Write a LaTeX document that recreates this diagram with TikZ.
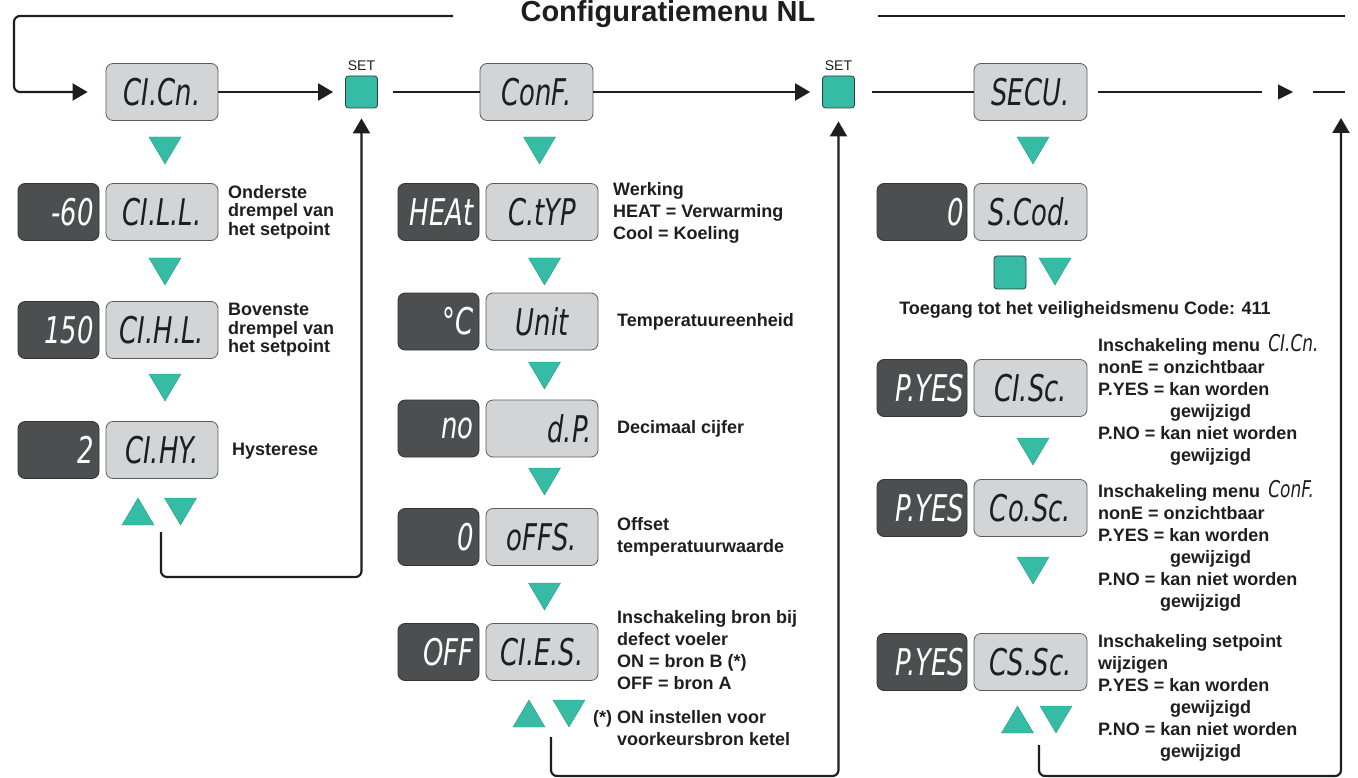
\documentclass[tikz,border=0pt]{standalone}
\usepackage{fontspec}
\usepackage{graphicx}
\setmainfont{Liberation Sans}
\newfontfamily\lcdfont{DejaVu Sans Condensed}
\usetikzlibrary{arrows.meta}
\definecolor{teal1}{HTML}{36BCA4}
\definecolor{teal2}{HTML}{2A9A86}
\definecolor{lcdl}{HTML}{D3D4D6}
\definecolor{lcdd}{HTML}{4D4E50}
\definecolor{bord}{HTML}{5A5B5D}
\definecolor{darkb}{HTML}{333335}
\definecolor{btnb}{HTML}{2E3B38}
\definecolor{ink}{HTML}{1E1E1E}
\newcommand{\lcdtxt}[1]{{\lcdfont\itshape\fontsize{32}{32}\selectfont\scalebox{0.9}[1.15]{#1}}}
\newcommand{\lcdsmall}[1]{{\lcdfont\itshape\mdseries\fontsize{21}{21}\selectfont\scalebox{0.9}[1.1]{#1}}}
\begin{document}
\begin{tikzpicture}[x=1pt,y=-1pt,
  lite/.style={draw=bord,fill=lcdl,rounded corners=7pt,line width=0.8pt,minimum width=112pt,minimum height=57pt,inner sep=0pt,text=ink},
  dark/.style={draw=darkb,fill=lcdd,rounded corners=7pt,line width=0.8pt,minimum width=81pt,minimum height=57pt,inner sep=0pt,text=white,text width=70pt,align=right},
  darkw/.style={dark,minimum width=90pt,text width=84pt},
  btn/.style={draw=btnb,fill=teal1,rounded corners=3pt,line width=0.8pt,minimum width=32pt,minimum height=32pt,inner sep=0pt},
  conn/.style={line width=2.2pt,draw=ink,rounded corners=6pt},
  arr/.style={conn,-{Triangle[length=15pt,width=17pt]}},
  tri/.style={fill=teal1,draw=teal2,line width=0.4pt},
  lbl/.style={font=\fontsize{18}{22}\selectfont\bfseries,align=left,anchor=west,inner sep=0pt,text=ink},
  lblL/.style={lbl,font=\fontsize{18}{18.5}\selectfont\bfseries},
  setl/.style={font=\fontsize{14}{14}\selectfont,inner sep=0pt,text=ink},
  title/.style={font=\fontsize{29}{29}\selectfont\bfseries,inner sep=0pt,text=ink},
  dn/.pic={\filldraw[tri] (-16,0)--(16,0)--(0,27)--cycle;},
  up/.pic={\filldraw[tri] (-16,27)--(16,27)--(0,0)--cycle;}
]
\useasboundingbox (0,0) rectangle (1358,778);

% ---------- title and top loop ----------
\node[title] (ttl) at (668,14) {Configuratiemenu NL};
\coordinate (tL) at (453,16);
\coordinate (tR) at (878,16);
\coordinate (tE) at (1345,16);
\draw[conn] (tR) -- (tE);

% ---------- top row ----------
\node[lite] (cicn) at (162,92) {\lcdtxt{CI.Cn.}};
\node[btn] (set1) at (361.5,92) {};
\node[setl] at (361.5,66) {SET};
\node[lite,minimum width=113pt] (conf) at (536.5,92) {\lcdtxt{ConF.}};
\node[btn] (set2) at (838.5,92) {};
\node[setl] at (838.5,66) {SET};
\node[lite,minimum width=113pt] (secu) at (1030.5,92) {\lcdtxt{SECU.}};
\coordinate (gapA) at (1262,92);
\coordinate (gapB) at (1313,92);
\coordinate (gapE) at (1345,92);

\draw[arr,shorten >=18pt] (tL) -- (14,16) -- (14,92) -- (cicn.west);
\draw[arr,shorten >=12pt] (cicn.east) -- (set1.west);
\draw[conn] ([xshift=15pt]set1.east) -- (conf.west);
\draw[arr,shorten >=12pt] (conf.east) -- (set2.west);
\draw[conn] ([xshift=17pt]set2.east) -- (secu.west);
\draw[conn] ([xshift=11pt]secu.east) -- (gapA);
\fill[ink] (1278,84.5) -- (1293,92) -- (1278,99.5) -- cycle;
\draw[conn] (gapB) -- (gapE);

% ---------- left column ----------
\pic at (165,137) {dn};
\node[dark] (d11) at (58.5,212) {\lcdtxt{-60}};
\node[lite] (l11) at (162,212) {\lcdtxt{CI.L.L.}};
\node[lblL] at (228,212) {Onderste\\drempel van\\het setpoint};
\pic at (165,258) {dn};
\node[dark] (d12) at (58.5,330) {\lcdtxt{150}};
\node[lite] (l12) at (162,330) {\lcdtxt{CI.H.L.}};
\node[lblL] at (228,330) {Bovenste\\drempel van\\het setpoint};
\pic at (165,374) {dn};
\node[dark] (d13) at (58.5,450) {\lcdtxt{2}};
\node[lite] (l13) at (162,450) {\lcdtxt{CI.HY.}};
\node[lbl] at (232,451) {Hysterese};
\pic at (138,498) {up};
\pic at (180.5,498) {dn};
\coordinate (rL) at (161,532);
\draw[arr,shorten >=10pt] (rL) -- (161,577) -- (361.5,577) -- (set1.south);

% ---------- middle column ----------
\pic at (539.5,137) {dn};
\node[dark] (d21) at (438.5,212) {\lcdtxt{HEAt}};
\node[lite] (l21) at (542,212) {\lcdtxt{C.tYP}};
\node[lbl] at (613,213) {Werking\\HEAT = Verwarming\\Cool = Koeling};
\pic at (544.5,258) {dn};
\node[dark] (d22) at (438.5,321.5) {\lcdtxt{°C}};
\node[lite] (l22) at (542,321.5) {\lcdtxt{Unit}};
\node[lbl] at (617,322) {Temperatuureenheid};
\pic at (544.5,362) {dn};
\node[dark] (d23) at (438.5,428.5) {\lcdtxt{no}};
\node[lite,text width=100pt,align=right] (l23) at (542,428.5) {\lcdtxt{d.P.}};
\node[lbl] at (617,429) {Decimaal cijfer};
\pic at (544.5,468) {dn};
\node[dark] (d24) at (438.5,537) {\lcdtxt{0}};
\node[lite] (l24) at (542,537) {\lcdtxt{oFFS.}};
\node[lbl] at (617,537) {Offset\\temperatuurwaarde};
\pic at (544.5,583) {dn};
\node[dark] (d25) at (438.5,652) {\lcdtxt{OFF}};
\node[lite] (l25) at (542,652) {\lcdtxt{CI.E.S.}};
\node[lbl] at (617,650) {Inschakeling bron bij\\defect voeler\\ON = bron B (*)\\OFF = bron A};
\pic at (529,700) {up};
\pic at (569,700) {dn};
\node[lbl] at (593,728) {(*) ON instellen voor\\\hphantom{(*) }voorkeursbron ketel};
\coordinate (rM) at (551,737);
\draw[arr,shorten >=13pt] (rM) -- (551,776) -- (838.5,776) -- (set2.south);

% ---------- right column ----------
\pic at (1033,137) {dn};
\node[darkw] (d31) at (922,212) {\lcdtxt{0}};
\node[lite,minimum width=113pt] (l31) at (1030.5,212) {\lcdtxt{S.Cod.}};
\node[btn,minimum height=33pt] (sq) at (1010,272.5) {};
\pic at (1055,258) {dn};
\node[font=\fontsize{18}{22}\selectfont\bfseries,inner sep=0pt,text=ink] at (1085,310) {Toegang tot het veiligheidsmenu Code: 411};
\node[darkw] (d32) at (922,388) {\lcdtxt{P.YES}};
\node[lite,minimum width=113pt] (l32) at (1030.5,388) {\lcdtxt{CI.Sc.}};
\node[lbl] at (1098,400) {Inschakeling menu \,\lcdsmall{CI.Cn.}\\nonE = onzichtbaar\\P.YES = kan worden\\\hspace*{72pt}gewijzigd\\P.NO = kan niet worden\\\hspace*{72pt}gewijzigd};
\pic at (1033,438) {dn};
\node[darkw] (d33) at (922,508) {\lcdtxt{P.YES}};
\node[lite,minimum width=113pt] (l33) at (1030.5,508) {\lcdtxt{Co.Sc.}};
\node[lbl] at (1098,546) {Inschakeling menu \,\lcdsmall{ConF.}\\nonE = onzichtbaar\\P.YES = kan worden\\\hspace*{72pt}gewijzigd\\P.NO = kan niet worden\\\hspace*{62pt}gewijzigd};
\pic at (1033,557) {dn};
\node[darkw] (d34) at (922,662) {\lcdtxt{P.YES}};
\node[lite,minimum width=113pt] (l34) at (1030.5,662) {\lcdtxt{CS.Sc.}};
\node[lbl] at (1098,697.5) {Inschakeling setpoint\\wijzigen\\P.YES = kan worden\\\hspace*{72pt}gewijzigd\\P.NO = kan niet worden\\\hspace*{62pt}gewijzigd};
\pic at (1017.5,706) {up};
\pic at (1056,706) {dn};
\coordinate (rR) at (1039,745);
\coordinate (endR) at (1341,118);
\draw[arr] (rR) -- (1039,776) -- (1341,776) -- (endR);
\end{tikzpicture}
\end{document}
